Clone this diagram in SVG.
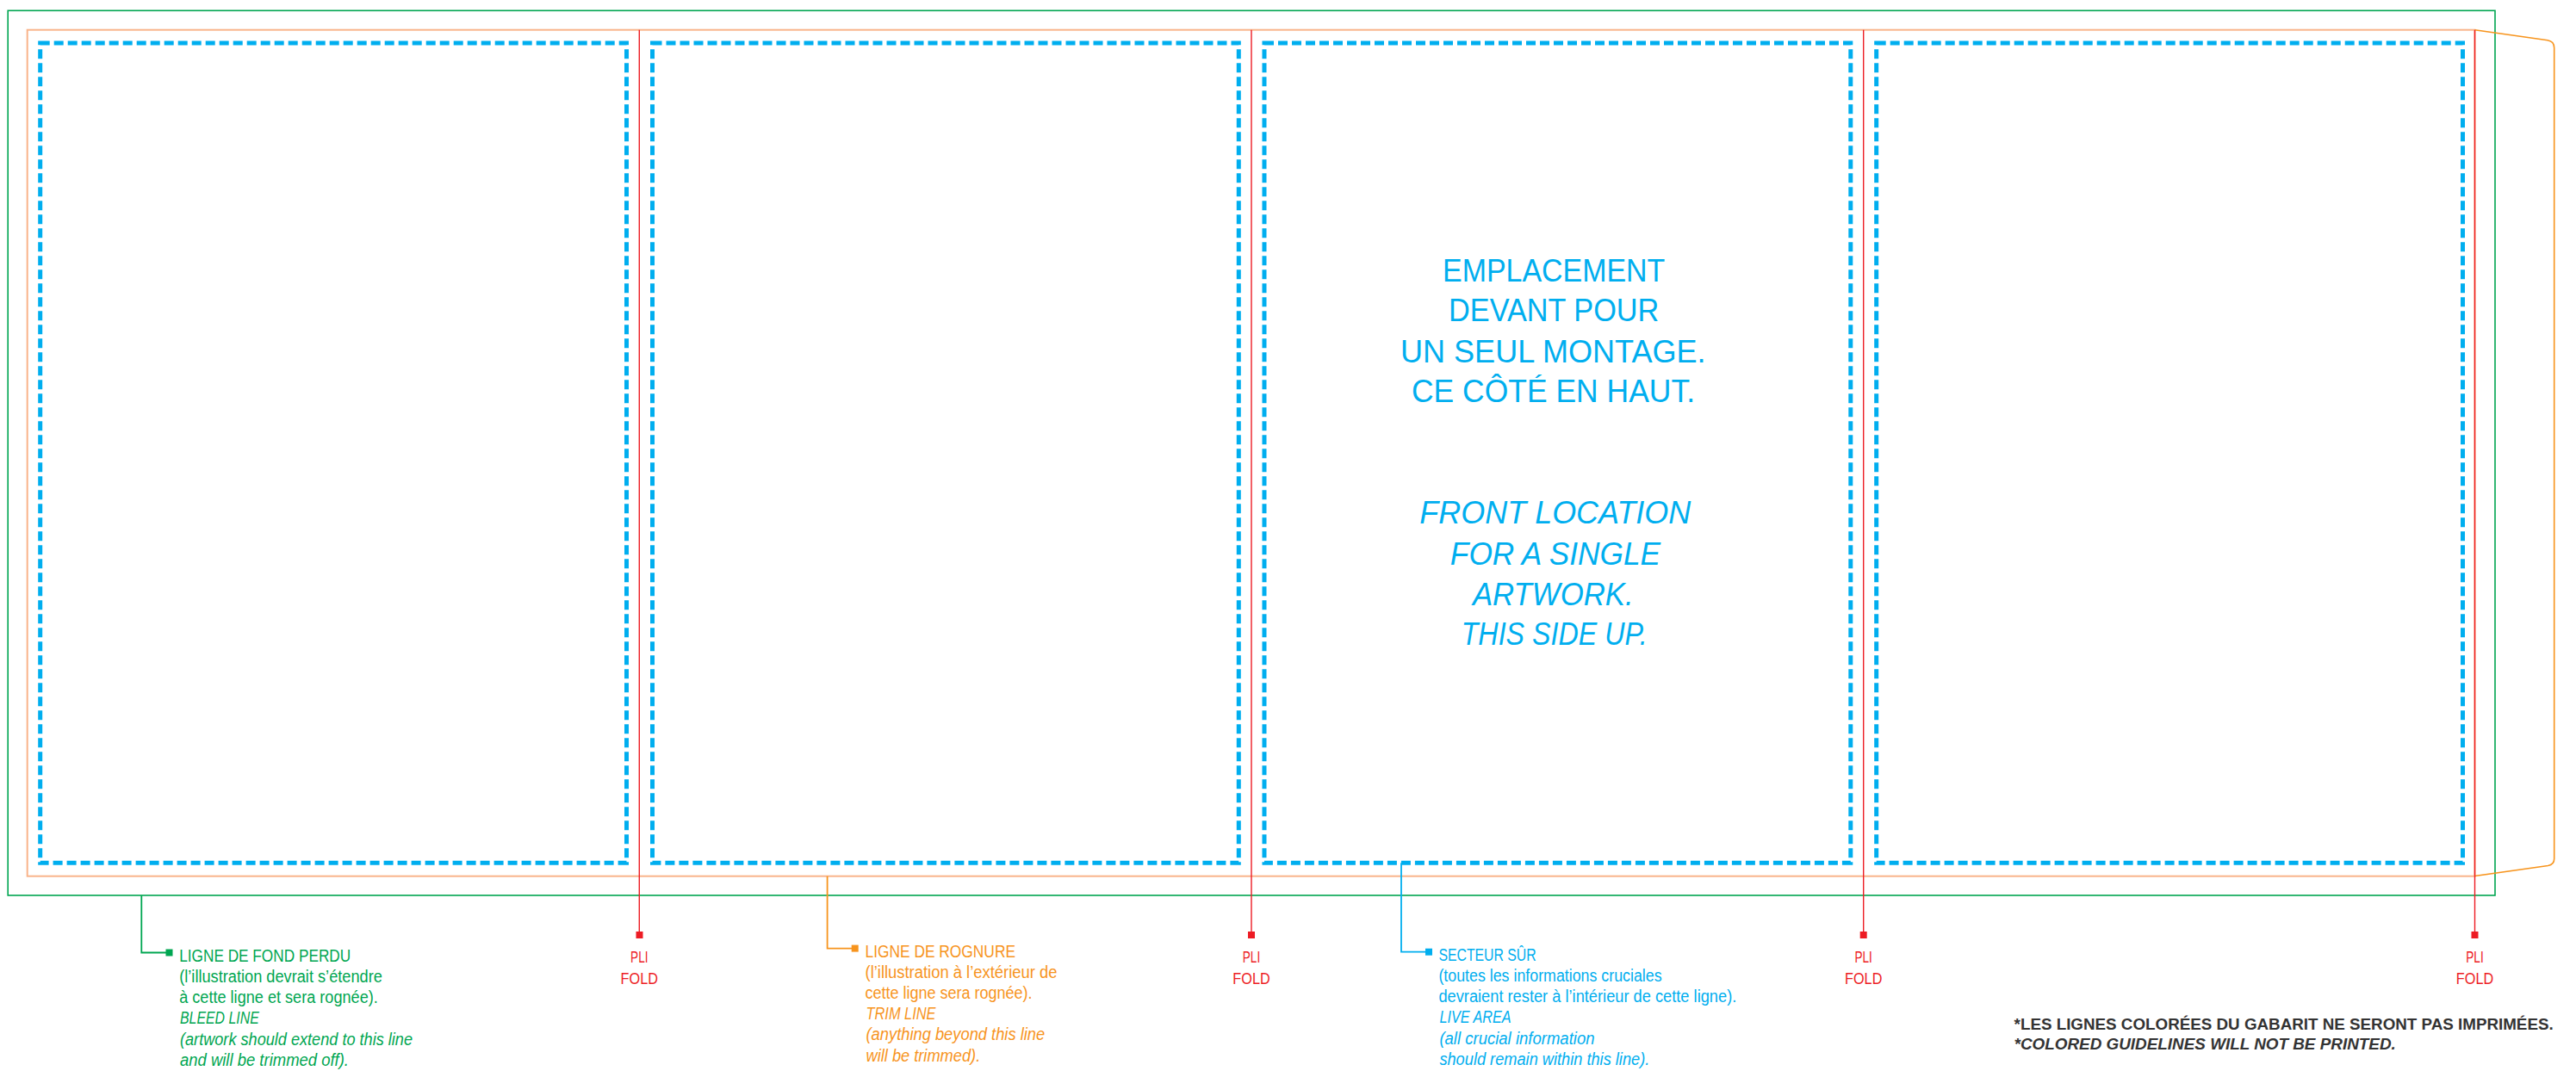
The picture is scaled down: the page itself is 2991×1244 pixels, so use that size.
<svg xmlns="http://www.w3.org/2000/svg" width="2991" height="1244" viewBox="0 0 2991 1244">
<style>
.bleed{fill:none;stroke:#00A651;stroke-width:1.6}
.trim{fill:none;stroke:#F9B48A;stroke-width:2}
.flap{fill:none;stroke:#F7941D;stroke-width:1.6}
.fold{stroke:#ED1C24;stroke-width:1.4}
.live{fill:none;stroke:#00AEEF;stroke-width:5;stroke-dasharray:11 5}
.t{font-family:"Liberation Sans",Arial,sans-serif;font-size:19.5px}
.g{fill:#00A651}.o{fill:#F7941D}.b{fill:#00AEEF}.r{fill:#ED1C24}
.i{font-style:italic}
.big{font-family:"Liberation Sans",Arial,sans-serif;font-size:37px;fill:#00AEEF;text-anchor:middle}
.fl{font-family:"Liberation Sans",Arial,sans-serif;font-size:18.6px;fill:#ED1C24;text-anchor:middle}
.note{font-family:"Liberation Sans",Arial,sans-serif;font-size:17.7px;font-weight:bold;fill:#333333}
.gl{fill:none;stroke:#00A651;stroke-width:1.8}
.ol{fill:none;stroke:#F7941D;stroke-width:1.8}
.bl{fill:none;stroke:#00AEEF;stroke-width:1.8}
</style>

<g id="bleed-line">
<rect class="bleed" x="9.2" y="12.3" width="2887.8" height="1027.7"/>
</g>

<g id="trim-line">
<rect class="trim" x="31.7" y="34.7" width="2841.8" height="983"/>
<path class="flap" d="M2873.5 34.7 L2958 46.7 Q2965.7 48 2965.7 55.5 L2965.7 997.5 Q2965.7 1004.3 2958.5 1005.5 L2873.5 1017.5"/>
</g>

<g id="live-areas">
<rect class="live" x="46.7" y="50" width="680.8" height="952.3"/>
<rect class="live" x="757.5" y="50" width="680.8" height="952.3"/>
<rect class="live" x="1468" y="50" width="680.8" height="952.3"/>
<rect class="live" x="2178.7" y="50" width="680.8" height="952.3"/>
</g>

<g id="connectors">
<line class="fold" x1="742.3" y1="34.7" x2="742.3" y2="1083"/>
<line class="fold" x1="1453" y1="34.7" x2="1453" y2="1083"/>
<line class="fold" x1="2163.7" y1="34.7" x2="2163.7" y2="1083"/>
<line class="fold" x1="2873.5" y1="34.7" x2="2873.5" y2="1083"/>
<polyline class="gl" points="164.3,1040 164.3,1106.5 193,1106.5"/>
<polyline class="ol" points="960.6,1017.7 960.6,1101.6 989,1101.6"/>
<polyline class="bl" points="1627,1002.3 1627,1105.7 1655,1105.7"/>
</g>

<g id="fold-1">
<rect x="738.5" y="1082" width="8" height="8" fill="#ED1C24"/>
<text class="fl" x="742.3" y="1118.3" textLength="20.4" lengthAdjust="spacingAndGlyphs">PLI</text>
<text class="fl" x="742.3" y="1142.7" textLength="43.4" lengthAdjust="spacingAndGlyphs">FOLD</text>
</g>
<g id="fold-2">
<rect x="1449" y="1082" width="8" height="8" fill="#ED1C24"/>
<text class="fl" x="1453" y="1118.3" textLength="20.4" lengthAdjust="spacingAndGlyphs">PLI</text>
<text class="fl" x="1453" y="1142.7" textLength="43.4" lengthAdjust="spacingAndGlyphs">FOLD</text>
</g>
<g id="fold-3">
<rect x="2159.7" y="1082" width="8" height="8" fill="#ED1C24"/>
<text class="fl" x="2163.7" y="1118.3" textLength="20.4" lengthAdjust="spacingAndGlyphs">PLI</text>
<text class="fl" x="2163.7" y="1142.7" textLength="43.4" lengthAdjust="spacingAndGlyphs">FOLD</text>
</g>
<g id="fold-4">
<rect x="2869.5" y="1082" width="8" height="8" fill="#ED1C24"/>
<text class="fl" x="2873.5" y="1118.3" textLength="20.4" lengthAdjust="spacingAndGlyphs">PLI</text>
<text class="fl" x="2873.5" y="1142.7" textLength="43.4" lengthAdjust="spacingAndGlyphs">FOLD</text>
</g>

<g id="bleed-label">
<rect x="192.5" y="1102.5" width="8" height="8" fill="#00A651"/>
<text class="t g" x="208.2" y="1116.7" textLength="199" lengthAdjust="spacingAndGlyphs">LIGNE DE FOND PERDU</text>
<text class="t g" x="208.2" y="1141" textLength="235.7" lengthAdjust="spacingAndGlyphs">(l’illustration devrait s’étendre</text>
<text class="t g" x="208.2" y="1165.3" textLength="230.6" lengthAdjust="spacingAndGlyphs">à cette ligne et sera rognée).</text>
<text class="t g i" x="209" y="1189.3" textLength="91.8" lengthAdjust="spacingAndGlyphs">BLEED LINE</text>
<text class="t g i" x="209" y="1214" textLength="270" lengthAdjust="spacingAndGlyphs">(artwork should extend to this line</text>
<text class="t g i" x="209" y="1238.3" textLength="196" lengthAdjust="spacingAndGlyphs">and will be trimmed off).</text>
</g>

<g id="trim-label">
<rect x="988.7" y="1097.6" width="8" height="8" fill="#F7941D"/>
<text class="t o" x="1004.5" y="1111.7" textLength="174.5" lengthAdjust="spacingAndGlyphs">LIGNE DE ROGNURE</text>
<text class="t o" x="1004.5" y="1135.7" textLength="223" lengthAdjust="spacingAndGlyphs">(l’illustration à l’extérieur de</text>
<text class="t o" x="1004.5" y="1160" textLength="193.9" lengthAdjust="spacingAndGlyphs">cette ligne sera rognée).</text>
<text class="t o i" x="1005.5" y="1184.3" textLength="81" lengthAdjust="spacingAndGlyphs">TRIM LINE</text>
<text class="t o i" x="1005.5" y="1208.3" textLength="207.7" lengthAdjust="spacingAndGlyphs">(anything beyond this line</text>
<text class="t o i" x="1005.5" y="1232.7" textLength="132.7" lengthAdjust="spacingAndGlyphs">will be trimmed).</text>
</g>

<g id="live-label">
<rect x="1655" y="1101.7" width="8" height="8" fill="#00AEEF"/>
<text class="t b" x="1670.4" y="1115.7" textLength="113.3" lengthAdjust="spacingAndGlyphs">SECTEUR SÛR</text>
<text class="t b" x="1670.4" y="1140" textLength="259.2" lengthAdjust="spacingAndGlyphs">(toutes les informations cruciales</text>
<text class="t b" x="1670.4" y="1164.3" textLength="345.9" lengthAdjust="spacingAndGlyphs">devraient rester à l’intérieur de cette ligne).</text>
<text class="t b i" x="1671.4" y="1188.3" textLength="83.2" lengthAdjust="spacingAndGlyphs">LIVE AREA</text>
<text class="t b i" x="1671.4" y="1212.7" textLength="180.1" lengthAdjust="spacingAndGlyphs">(all crucial information</text>
<text class="t b i" x="1671.4" y="1236.7" textLength="243.9" lengthAdjust="spacingAndGlyphs">should remain within this line).</text>
</g>

<g id="front-location">
<text class="big" x="1804.2" y="326.7" textLength="258.3" lengthAdjust="spacingAndGlyphs">EMPLACEMENT</text>
<text class="big" x="1804.2" y="373.3" textLength="244.3" lengthAdjust="spacingAndGlyphs">DEVANT POUR</text>
<text class="big" x="1803.3" y="420.7" textLength="354.7" lengthAdjust="spacingAndGlyphs">UN SEUL MONTAGE.</text>
<text class="big" x="1803.5" y="467.3" textLength="329" lengthAdjust="spacingAndGlyphs">CE CÔTÉ EN HAUT.</text>
<text class="big i" x="1805.8" y="608.3" textLength="315" lengthAdjust="spacingAndGlyphs">FRONT LOCATION</text>
<text class="big i" x="1806" y="655.7" textLength="244.3" lengthAdjust="spacingAndGlyphs">FOR A SINGLE</text>
<text class="big i" x="1803.3" y="702.7" textLength="186.7" lengthAdjust="spacingAndGlyphs">ARTWORK.</text>
<text class="big i" x="1804.7" y="749.3" textLength="216" lengthAdjust="spacingAndGlyphs">THIS SIDE UP.</text>
</g>

<g id="note">
<text class="note" x="2338.6" y="1196" textLength="626.1" lengthAdjust="spacingAndGlyphs">*LES LIGNES COLORÉES DU GABARIT NE SERONT PAS IMPRIMÉES.</text>
<text class="note i" x="2338.6" y="1219.3" textLength="443.2" lengthAdjust="spacingAndGlyphs">*COLORED GUIDELINES WILL NOT BE PRINTED.</text>
</g>
</svg>
